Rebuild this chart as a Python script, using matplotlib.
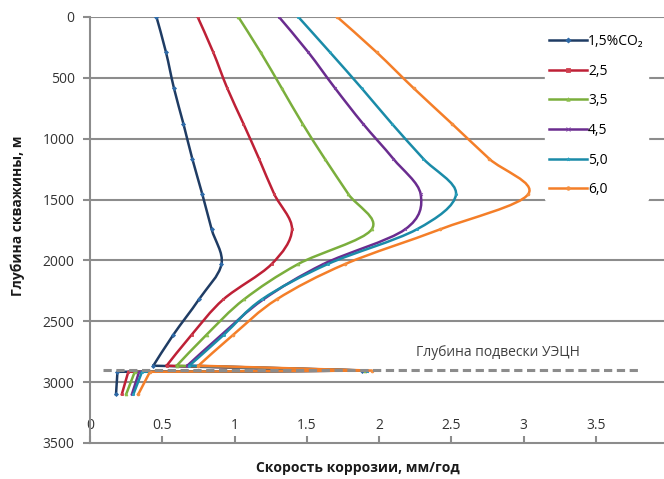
import numpy as np
import matplotlib
matplotlib.use('Agg')
import matplotlib.pyplot as plt
from matplotlib.path import Path
from matplotlib.patches import PathPatch
from matplotlib.lines import Line2D

plt.rcParams['font.family'] = ['Open Sans', 'DejaVu Sans']

## depth of the points (m), same for every series
## the first 11 points form the smooth profile, the last 3 are the tail below the pump
depth = [0, 290, 585, 875, 1165, 1455, 1745, 2030, 2320, 2610, 2865, 2905, 2915, 3100]

## corrosion rate (mm/year) read for each CO2 content
rate_15 = [0.46, 0.526, 0.581, 0.646, 0.708, 0.777, 0.842, 0.91, 0.754, 0.577, 0.438, 1.88, 0.19, 0.18]
rate_25 = [0.745, 0.853, 0.95, 1.061, 1.17, 1.275, 1.398, 1.257, 0.923, 0.704, 0.53, 1.9, 0.265, 0.22]
rate_35 = [1.027, 1.181, 1.327, 1.47, 1.625, 1.788, 1.949, 1.44, 1.066, 0.807, 0.6, 1.9, 0.31, 0.25]
rate_45 = [1.308, 1.511, 1.696, 1.888, 2.099, 2.288, 2.18, 1.615, 1.2, 0.911, 0.673, 1.92, 0.34, 0.29]
rate_50 = [1.442, 1.661, 1.88, 2.088, 2.307, 2.533, 2.261, 1.645, 1.19, 0.927, 0.687, 1.92, 0.36, 0.3]
rate_60 = [1.711, 1.984, 2.24, 2.503, 2.763, 3.033, 2.422, 1.765, 1.292, 0.992, 0.75, 1.95, 0.415, 0.334]

labels = ['1,5%CO₂', '2,5', '3,5', '4,5', '5,0', '6,0']
colors = ['#1f3c64', '#be2036', '#7aae3c', '#6a2c8f', '#1a8ba8', '#f47e28']
marker_colors = ['#2e6aa8', '#d0404f', '#8cbf4c', '#7d3ea3', '#2aa0bd', '#f58f3f']
markers = ['D', 's', '^', 'x', '*', 'o']

pump_depth = 2900  # глубина подвески УЭЦН
xticks = [0, 0.5, 1, 1.5, 2, 2.5, 3, 3.5, 4]
yticks = [0, 500, 1000, 1500, 2000, 2500, 3000, 3500]
n_smooth = 11


def smooth_path(x, y):
    """Excel-like smoothed line: cubic bezier through the points"""
    pts = np.column_stack([x, y]).astype(float)
    n = len(pts)
    verts = [pts[0]]
    codes = [Path.MOVETO]
    for i in range(n - 1):
        p0 = pts[max(i - 1, 0)]
        p1 = pts[i]
        p2 = pts[i + 1]
        p3 = pts[min(i + 2, n - 1)]
        verts += [p1 + (p2 - p0) / 6, p2 - (p3 - p1) / 6, p2]
        codes += [Path.CURVE4] * 3
    return Path(verts, codes)


fig = plt.figure(figsize=(6.64, 4.79), dpi=100)
ax = fig.add_axes([90/664, 1-443/479, 578/664, 426/479])

series = [rate_15, rate_25, rate_35, rate_45, rate_50, rate_60]
handles = []
for r, lab, c, mc, m in zip(series, labels, colors, marker_colors, markers):
    p = smooth_path(r[:n_smooth], depth[:n_smooth])
    ax.add_patch(PathPatch(p, fc='none', ec=c, lw=1.8, zorder=3, capstyle='round'))
    ax.plot(r[n_smooth-1:], depth[n_smooth-1:], color=c, lw=1.8, zorder=3)
    ax.plot(r, depth, ls='none', color=mc, marker=m, ms=2, mew=0.6, zorder=3)
    handles.append(Line2D([], [], color=c, lw=1.8, marker=m, ms=2.5, mew=0.6,
                          mfc=mc, mec=mc, label=lab))

ax.plot([0.09, 3.8], [pump_depth, pump_depth], color='#8c8c8c', lw=2.2,
        linestyle=(0, (2.7, 1.5)), zorder=4)
ax.text(2.82, 2760, 'Глубина подвески УЭЦН', ha='center', va='center',
        fontsize=10, color='#404040')

ax.set_xlim(0, 4)
ax.set_ylim(3500, 0)
ax.set_xticks(xticks)
ax.set_xticklabels(['0', '0.5', '1', '1.5', '2', '2.5', '3', '3.5', '4'])
ax.set_yticks(yticks)
for t in yticks[:-1]:
    ax.axhline(t, color='#8c8c8c', lw=1.5, zorder=1)

for s in ['top', 'right']:
    ax.spines[s].set_visible(False)
for s in ['left', 'bottom']:
    ax.spines[s].set_color('#8c8c8c')
    ax.spines[s].set_linewidth(1.5)
ax.tick_params(axis='y', direction='out', length=5, width=1.5, color='#8c8c8c',
               labelsize=10, labelcolor='#333333', pad=6)
ax.tick_params(axis='x', direction='in', length=5, width=1.5, color='#8c8c8c',
               labelsize=10, labelcolor='#333333', pad=-18)

fig.text(358/664, 1-468/479, 'Скорость коррозии, мм/год', ha='center', va='center',
         fontsize=10, fontweight='bold', color='#1a1a1a')
fig.text(18/664, 1-216/479, 'Глубина скважины, м', ha='center', va='center',
         rotation=90, fontsize=10, fontweight='bold', color='#1a1a1a')

leg = ax.legend(handles=handles, loc='upper left', bbox_to_anchor=(545/664, 1-30/479),
                bbox_transform=fig.transFigure, frameon=True, fontsize=10,
                labelspacing=1.05, handlelength=2.7, handletextpad=0.1,
                borderpad=0.3, borderaxespad=0)
leg.get_frame().set_facecolor('white')
leg.get_frame().set_edgecolor('white')
leg.get_frame().set_alpha(1)
leg.set_zorder(5)

fig.savefig('out.png', dpi=100)
